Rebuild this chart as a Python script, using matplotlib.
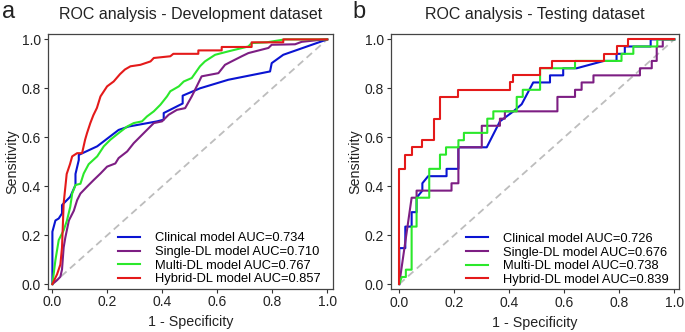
import matplotlib
matplotlib.use("Agg")
from matplotlib import pyplot as plt

plt.rcParams['font.family'] = ['Liberation Sans', 'DejaVu Sans']

labels = ['Clinical model', 'Single-DL model', 'Multi-DL model', 'Hybrid-DL model']
colours = ['#0a14d2', '#7d1e83', '#2be82b', '#e41a1a']

# development dataset
dev_auc = [0.734, 0.710, 0.767, 0.857]
dev_clin_fpr = [0, 0, 0.011, 0.023, 0.035, 0.035, 0.065, 0.084, 0.084, 0.096, 0.096, 0.163, 0.241, 0.278,
                0.381, 0.405, 0.405, 0.474, 0.474, 0.537, 0.64, 0.792, 0.798, 0.84, 1.0]
dev_clin_tpr = [0, 0.214, 0.26, 0.268, 0.289, 0.323, 0.357, 0.405, 0.45, 0.507, 0.528, 0.563, 0.63, 0.644,
                0.665, 0.672, 0.699, 0.738, 0.77, 0.80, 0.835, 0.869, 0.903, 0.937, 1.0]
dev_single_fpr = [0, 0.017, 0.029, 0.035, 0.041, 0.047, 0.06, 0.078, 0.09, 0.102, 0.126, 0.15, 0.175, 0.199,
                  0.229, 0.241, 0.272, 0.296, 0.32, 0.344, 0.369, 0.399, 0.423, 0.453, 0.483, 0.507, 0.519,
                  0.543, 0.604, 0.628, 0.652, 0.689, 0.713, 0.786, 0.798, 0.883, 0.907, 0.99, 1.0]
dev_single_tpr = [0, 0.016, 0.03, 0.06, 0.15, 0.19, 0.26, 0.30, 0.343, 0.37, 0.398, 0.425, 0.452, 0.48,
                  0.493, 0.515, 0.542, 0.576, 0.603, 0.63, 0.658, 0.665, 0.692, 0.712, 0.719, 0.767, 0.794,
                  0.849, 0.862, 0.896, 0.91, 0.931, 0.944, 0.965, 0.978, 0.98, 0.99, 1.0, 1.0]
dev_multi_fpr = [0, 0.011, 0.023, 0.041, 0.053, 0.065, 0.072, 0.084, 0.102, 0.114, 0.132, 0.163, 0.187, 0.211,
                 0.241, 0.272, 0.296, 0.326, 0.344, 0.369, 0.393, 0.417, 0.429, 0.46, 0.478, 0.507, 0.537,
                 0.555, 0.592, 0.64, 0.713, 0.725, 0.78, 0.846, 1.0]
dev_multi_tpr = [0, 0.098, 0.18, 0.22, 0.26, 0.316, 0.37, 0.405, 0.41, 0.452, 0.49, 0.522, 0.563, 0.59,
                 0.617, 0.644, 0.658, 0.665, 0.685, 0.706, 0.733, 0.767, 0.788, 0.808, 0.828, 0.842, 0.89,
                 0.91, 0.937, 0.951, 0.971, 0.985, 0.988, 1.0, 1.0]
dev_hybrid_fpr = [0, 0.017, 0.029, 0.035, 0.041, 0.052, 0.064, 0.072, 0.09, 0.108, 0.119, 0.126, 0.138, 0.149,
                  0.162, 0.175, 0.199, 0.223, 0.246, 0.264, 0.284, 0.32, 0.357, 0.369, 0.429, 0.44, 0.531,
                  0.531, 0.616, 0.616, 0.725, 0.725, 0.84, 0.84, 1.0]
dev_hybrid_tpr = [0, 0.04, 0.08, 0.15, 0.33, 0.45, 0.49, 0.522, 0.535, 0.535, 0.59, 0.617, 0.658, 0.69,
                  0.72, 0.767, 0.808, 0.828, 0.858, 0.877, 0.89, 0.896, 0.91, 0.924, 0.931, 0.941, 0.941,
                  0.955, 0.955, 0.969, 0.969, 0.988, 0.988, 1.0, 1.0]

# testing dataset
test_auc = [0.726, 0.676, 0.738, 0.839]
test_clin_fpr = [0, 0, 0.022, 0.022, 0.045, 0.045, 0.063, 0.063, 0.084, 0.084, 0.105, 0.172, 0.172, 0.215,
                 0.215, 0.318, 0.366, 0.415, 0.445, 0.487, 0.548, 0.548, 0.596, 0.596, 0.645, 0.744, 0.79,
                 0.79, 0.82, 0.82, 0.914, 0.914, 1.0]
test_clin_tpr = [0, 0.147, 0.147, 0.235, 0.235, 0.294, 0.294, 0.353, 0.382, 0.412, 0.441, 0.441, 0.471, 0.471,
                 0.559, 0.559, 0.665, 0.706, 0.735, 0.824, 0.824, 0.853, 0.853, 0.882, 0.882, 0.912, 0.912,
                 0.941, 0.941, 0.971, 0.971, 1.0, 1.0]
test_single_fpr = [0, 0.045, 0.063, 0.063, 0.19, 0.19, 0.215, 0.215, 0.30, 0.30, 0.366, 0.366, 0.384, 0.384,
                   0.575, 0.575, 0.639, 0.639, 0.663, 0.663, 0.706, 0.706, 0.875, 0.875, 0.918, 0.918, 0.936,
                   0.936, 0.958, 0.958, 1.0]
test_single_tpr = [0, 0.353, 0.353, 0.382, 0.382, 0.412, 0.412, 0.559, 0.559, 0.647, 0.647, 0.676, 0.676, 0.706,
                   0.706, 0.765, 0.765, 0.794, 0.794, 0.824, 0.824, 0.853, 0.853, 0.882, 0.882, 0.912, 0.912,
                   0.971, 0.971, 1.0, 1.0]
test_multi_fpr = [0, 0.009, 0.024, 0.024, 0.045, 0.045, 0.063, 0.063, 0.109, 0.109, 0.148, 0.148, 0.17, 0.17,
                  0.215, 0.215, 0.235, 0.235, 0.32, 0.32, 0.342, 0.342, 0.427, 0.427, 0.449, 0.449, 0.512,
                  0.512, 0.639, 0.639, 0.808, 0.808, 0.851, 0.851, 0.938, 0.938, 1.0]
test_multi_tpr = [0, 0.029, 0.029, 0.059, 0.059, 0.235, 0.235, 0.353, 0.353, 0.471, 0.471, 0.529, 0.529, 0.559,
                  0.559, 0.588, 0.588, 0.618, 0.618, 0.676, 0.676, 0.706, 0.706, 0.765, 0.765, 0.794, 0.794,
                  0.882, 0.882, 0.912, 0.912, 0.941, 0.941, 0.971, 0.971, 1.0, 1.0]
test_hybrid_fpr = [0, 0, 0.022, 0.022, 0.045, 0.045, 0.081, 0.081, 0.127, 0.127, 0.148, 0.148, 0.215, 0.215,
                   0.402, 0.402, 0.415, 0.415, 0.512, 0.512, 0.554, 0.554, 0.744, 0.744, 0.79, 0.79, 0.833,
                   0.833, 1.0]
test_hybrid_tpr = [0, 0.471, 0.471, 0.529, 0.529, 0.559, 0.559, 0.588, 0.588, 0.676, 0.676, 0.765, 0.765, 0.794,
                   0.794, 0.824, 0.824, 0.853, 0.853, 0.882, 0.882, 0.912, 0.912, 0.941, 0.941, 0.971, 0.971,
                   1.0, 1.0]

panels = [
    ('a', 'ROC analysis - Development dataset', dev_auc,
     [(dev_clin_fpr, dev_clin_tpr), (dev_single_fpr, dev_single_tpr),
      (dev_multi_fpr, dev_multi_tpr), (dev_hybrid_fpr, dev_hybrid_tpr)]),
    ('b', 'ROC analysis - Testing dataset', test_auc,
     [(test_clin_fpr, test_clin_tpr), (test_single_fpr, test_single_tpr),
      (test_multi_fpr, test_multi_tpr), (test_hybrid_fpr, test_hybrid_tpr)]),
]

W, H = 685, 332
fig = plt.figure(figsize=(W / 100, H / 100), dpi=100)

# axes boxes in pixels: left, top, right, bottom
boxes = [(48, 34, 333, 288.5), (391, 34, 679, 289)]
xlims = [(-0.016, 1.021), (-0.030, 1.017)]
ylims = [(-0.018, 1.022), (-0.020, 1.022)]
leg_x = [0.235, 0.25]
letter_x = [2, 352]

for i, (letter, title, aucs, curves) in enumerate(panels):
    l, t, r, b = boxes[i]
    ax = fig.add_axes([l / W, 1 - b / H, (r - l) / W, (b - t) / H])
    ax.plot([0, 1], [0, 1], color='#bdbdbd', lw=1.3, ls=(0, (4, 2.5)), zorder=1)
    for j, (fpr, tpr) in enumerate(curves):
        ax.plot(fpr, tpr, color=colours[j], lw=1.5, zorder=2 + j,
                label='%s AUC=%.3f' % (labels[j], aucs[j]))
    ax.set_xlim(*xlims[i])
    ax.set_ylim(*ylims[i])
    ticks = [0, 0.2, 0.4, 0.6, 0.8, 1.0]
    ax.set_xticks(ticks)
    ax.set_yticks(ticks)
    ax.set_xticklabels(['%.1f' % v for v in ticks])
    ax.set_yticklabels(['%.1f' % v for v in ticks])
    ax.tick_params(length=3, width=0.8, color='#333333', labelsize=10, pad=2, labelcolor='#222222')
    for s in ax.spines.values():
        s.set_color('#444444')
        s.set_linewidth(0.9)
    ax.set_xlabel('1 - Specificity', fontsize=10.3, labelpad=4, color='#222222')
    ax.set_ylabel('Sensitivity', fontsize=10.3, labelpad=2, color='#222222')
    ax.set_title(title, fontsize=11.5, pad=11, color='#222222')
    ax.legend(loc='lower left', bbox_to_anchor=(leg_x[i], 0.0), frameon=False, fontsize=9.3,
              handlelength=1.7, handletextpad=1.15, labelspacing=0.12, borderpad=0.25, borderaxespad=0.0)
    fig.text(letter_x[i] / W, 1 - 1 / H, letter, fontsize=17, va='top', ha='left', color='#222222')

fig.savefig('out.png', dpi=100)
